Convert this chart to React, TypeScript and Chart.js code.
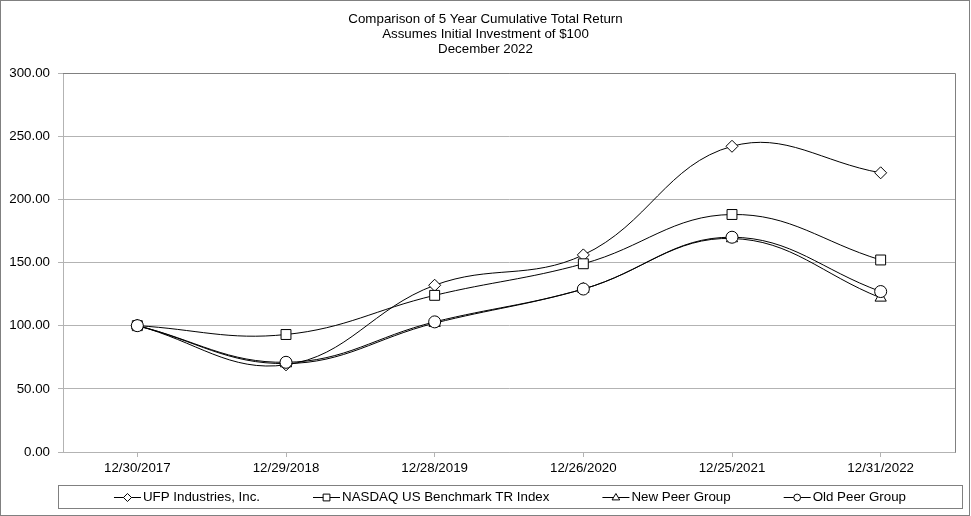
import React, { useEffect, useRef } from 'react';
import { Chart, registerables } from 'chart.js';

Chart.register(...registerables);

const FONT = "'Liberation Sans', Arial, sans-serif";
const FONT_SIZE = 13.33;

const titleLines = [
  'Comparison of 5 Year Cumulative Total Return',
  'Assumes Initial Investment of $100',
  'December 2022',
];

const categories = ['12/30/2017', '12/29/2018', '12/28/2019', '12/26/2020', '12/25/2021', '12/31/2022'];

const seriesNames = ['UFP Industries, Inc.', 'NASDAQ US Benchmark TR Index', 'New Peer Group', 'Old Peer Group'];
const ufpValues = [100, 69, 132, 156, 242, 221];
const nasdaqValues = [100, 93, 124, 149, 188, 152];
const newPeerValues = [100, 70, 102, 129, 169, 122];
const oldPeerValues = [100, 71, 103, 129, 170, 127];

const yTickValues = [0, 50, 100, 150, 200, 250, 300];

const pointStyles = ['rectRot', 'rect', 'triangle', 'circle'];
const pointRadii = [6, 7, 6.5, 6];

function drawMarker(ctx: CanvasRenderingContext2D, style: string, x: number, y: number, r: number) {
  ctx.beginPath();
  if (style === 'rectRot') {
    ctx.moveTo(x, y - r);
    ctx.lineTo(x + r, y);
    ctx.lineTo(x, y + r);
    ctx.lineTo(x - r, y);
    ctx.closePath();
  } else if (style === 'rect') {
    const s = r * 0.85;
    ctx.rect(x - s, y - s, 2 * s, 2 * s);
  } else if (style === 'triangle') {
    ctx.moveTo(x, y - r);
    ctx.lineTo(x + r * 0.95, y + r * 0.6);
    ctx.lineTo(x - r * 0.95, y + r * 0.6);
    ctx.closePath();
  } else {
    ctx.arc(x, y, r * 0.85, 0, Math.PI * 2);
  }
  ctx.fillStyle = '#ffffff';
  ctx.fill();
  ctx.stroke();
}

const decorPlugin = {
  id: 'decor',
  beforeDraw(chart: any) {
    const ctx = chart.ctx as CanvasRenderingContext2D;
    ctx.save();
    ctx.fillStyle = '#ffffff';
    ctx.fillRect(0, 0, chart.width, chart.height);
    ctx.restore();
  },
  beforeDatasetsDraw(chart: any) {
    const ctx = chart.ctx as CanvasRenderingContext2D;
    const { left, right, top, bottom } = chart.chartArea;
    ctx.save();
    ctx.strokeStyle = '#808080';
    ctx.lineWidth = 1;
    ctx.beginPath();
    const t = Math.round(top) + 0.5;
    const r = Math.round(right) + 0.5;
    ctx.moveTo(Math.round(left), t);
    ctx.lineTo(r, t);
    ctx.lineTo(r, Math.round(bottom) + 0.5);
    ctx.stroke();
    ctx.restore();
  },
  afterDraw(chart: any) {
    const ctx = chart.ctx as CanvasRenderingContext2D;
    ctx.save();
    // outer frame
    ctx.strokeStyle = '#808080';
    ctx.lineWidth = 1;
    ctx.strokeRect(0.5, 0.5, chart.width - 2, chart.height - 1);

    // title
    ctx.fillStyle = '#000000';
    ctx.font = `${FONT_SIZE}px ${FONT}`;
    ctx.textAlign = 'center';
    ctx.textBaseline = 'middle';
    titleLines.forEach((line, i) => {
      ctx.fillText(line, chart.width / 2, 19.5 + i * 15);
    });

    // legend box
    const bx = 58, by = 485, bw = 904, bh = 23;
    ctx.strokeStyle = '#808080';
    ctx.strokeRect(bx + 0.5, by + 0.5, bw, bh);

    const iconW = 27;
    const iconGap = 2;
    const itemGap = 53;
    const widths = seriesNames.map((n) => ctx.measureText(n).width);
    const total = widths.reduce((a, w) => a + iconW + iconGap + w, 0) + itemGap * (seriesNames.length - 1);
    let x = bx + bw / 2 - total / 2;
    const cy = by + bh / 2 + 0.5;
    ctx.textAlign = 'left';
    seriesNames.forEach((name, i) => {
      ctx.strokeStyle = '#000000';
      ctx.lineWidth = 1;
      ctx.beginPath();
      ctx.moveTo(x, Math.round(cy) + 0.5);
      ctx.lineTo(x + iconW, Math.round(cy) + 0.5);
      ctx.stroke();
      drawMarker(ctx, pointStyles[i], x + iconW / 2, Math.round(cy) + 0.5, 4);
      ctx.fillStyle = '#000000';
      ctx.fillText(name, x + iconW + iconGap, cy);
      x += iconW + iconGap + widths[i] + itemGap;
    });
    ctx.restore();
  },
};

export default function App() {
  const canvasRef = useRef<HTMLCanvasElement | null>(null);

  useEffect(() => {
    document.body.style.margin = '0';
    const canvas = canvasRef.current;
    if (!canvas) return;
    const valuesList = [ufpValues, nasdaqValues, newPeerValues, oldPeerValues];
    const orders = [4, 3, 2, 1];
    const chart = new Chart(canvas, {
      type: 'line',
      data: {
        labels: categories,
        datasets: seriesNames.map((name, i) => ({
          label: name,
          data: valuesList[i],
          borderColor: '#000000',
          borderWidth: 1,
          backgroundColor: '#ffffff',
          pointStyle: pointStyles[i] as any,
          pointRadius: pointRadii[i],
          pointBorderColor: '#000000',
          pointBackgroundColor: '#ffffff',
          pointBorderWidth: 1,
          tension: 0.4,
          fill: false,
          order: orders[i],
        })),
      },
      options: {
        responsive: false,
        animation: false,
        devicePixelRatio: 1,
        layout: { padding: { top: 73, right: 16, bottom: 34, left: 0 } },
        plugins: {
          legend: { display: false },
          title: { display: false },
          tooltip: { enabled: false },
        },
        events: [],
        scales: {
          x: {
            type: 'category',
            offset: true,
            grid: { drawOnChartArea: false, drawTicks: true, tickLength: 5, color: '#b3b3b3', offset: false },
            border: { display: true, color: '#b3b3b3' },
            ticks: {
              color: '#000000',
              font: { family: FONT, size: FONT_SIZE },
              padding: 3,
              maxRotation: 0,
              autoSkip: false,
            },
            afterFit: (s: any) => {
              s.height = 30;
            },
          },
          y: {
            type: 'linear',
            min: 0,
            max: 300,
            afterBuildTicks: (s: any) => {
              s.ticks = yTickValues.map((v) => ({ value: v }));
            },
            grid: { color: '#b3b3b3', tickLength: 5, drawTicks: true },
            border: { display: true, color: '#b3b3b3' },
            ticks: {
              color: '#000000',
              font: { family: FONT, size: FONT_SIZE },
              padding: 8,
              callback: (v: any) => Number(v).toFixed(2),
            },
            afterFit: (s: any) => {
              s.width = 63;
            },
          },
        },
      },
      plugins: [decorPlugin],
    });
    return () => chart.destroy();
  }, []);

  return (
    <div style={{ width: 971, height: 516 }}>
      <canvas ref={canvasRef} width={971} height={516} style={{ display: 'block' }} />
    </div>
  );
}
